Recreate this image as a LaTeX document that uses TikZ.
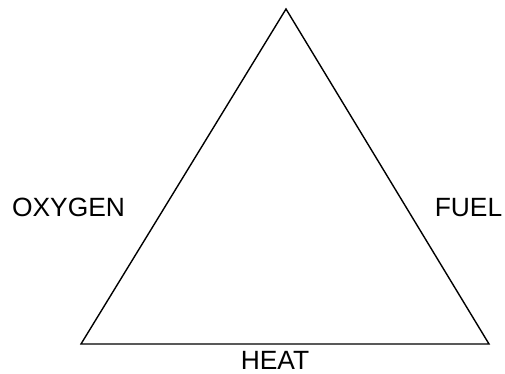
\documentclass[tikz,border=0pt]{standalone}
\usepackage{fontspec}
\setmainfont{Liberation Sans}
\usetikzlibrary{positioning}

\begin{document}
\begin{tikzpicture}[
  x=1pt, y=-1pt,
  font=\fontsize{26.4}{30}\selectfont,
  side/.style={line width=1.4pt, black, line join=miter},
  lbl/.style={inner sep=0pt, anchor=center},
]
\useasboundingbox (0,0) rectangle (505,374);
% the three corners of the triangle
\coordinate (top) at (286,9);
\coordinate (bl) at (81,344);
\coordinate (br) at (489,344);
\draw[side] (top) -- (br) -- (bl) -- cycle;
% labels
\node[lbl] (oxygen) at (68.5,207.5) {OXYGEN};
\node[lbl] (fuel) at (468.5,207.5) {FUEL};
\node[lbl] (heat) at (275,360.5) {HEAT};
\end{tikzpicture}
\end{document}
